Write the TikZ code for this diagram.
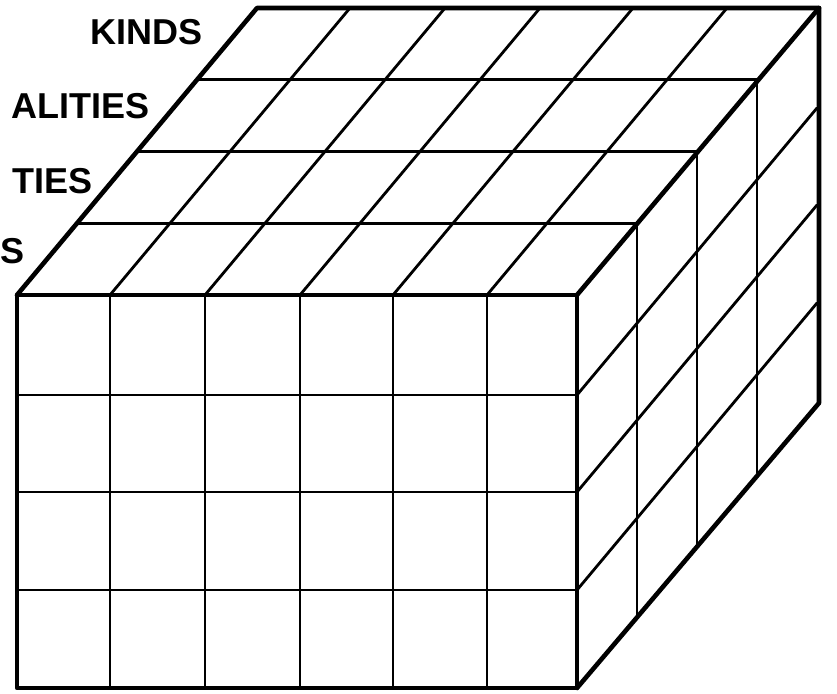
\documentclass[tikz,border=0pt]{standalone}
\usepackage{fontspec}
\setmainfont{Liberation Sans}
\begin{document}
\begin{tikzpicture}[x=1pt,y=-1pt,
  thin line/.style={line width=2.8pt,line cap=round},
  thick line/.style={line width=4.6pt,line cap=round,line join=round},
  lab/.style={anchor=base east,inner sep=0pt,font=\bfseries\fontsize{36}{36}\selectfont}]
\useasboundingbox (0,0) rectangle (837,693);
\def\dx{240}\def\dy{-287}
% front face grid
\foreach \x in {110,205,300,393,487}
  \draw[thin line] (\x,295) -- (\x,688);
\foreach \y in {395,492,590}
  \draw[thin line] (17,\y) -- (577,\y);
% top face grid
\foreach \x in {110,205,300,393,487}
  \draw[thin line] (\x,295) -- ++(\dx,\dy);
\foreach \t in {0.25,0.5,0.75}
  \draw[thin line] (17+\t*\dx,295+\t*\dy) -- (577+\t*\dx,295+\t*\dy);
% right face grid
\foreach \t in {0.25,0.5,0.75}
  \draw[thin line] (577+\t*\dx,295+\t*\dy) -- (577+\t*\dx,688+\t*\dy);
\foreach \y in {395,492,590}
  \draw[thin line] (577,\y) -- ++(\dx,\dy);
% outer edges
\draw[thick line] (17,295) rectangle (577,688);
\draw[thick line] (17,295) -- ++(\dx,\dy) -- (819,8) -- (819,403) -- (577,688);
\draw[thick line] (577,295) -- (819,8);
% labels
\node[lab] (kinds) at (203,45) {KINDS};
\node[lab] (qual) at (150,118) {ALITIES};
\node[lab] (quant) at (93,193) {TIES};
\node[lab,anchor=base west] (units) at (0,263) {S};
\end{tikzpicture}
\end{document}
